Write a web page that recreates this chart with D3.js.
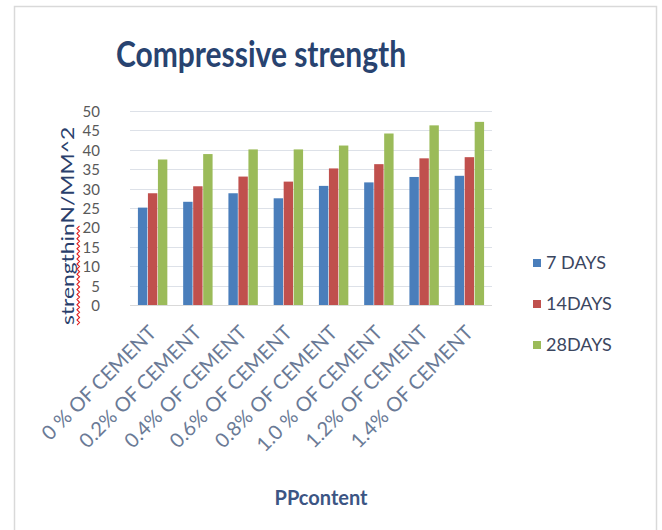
<!DOCTYPE html>
<html>
<head>
<meta charset="utf-8">
<script src="https://cdn.jsdelivr.net/npm/d3@7"></script>
<style>
  html, body { margin: 0; padding: 0; background: #ffffff; }
  svg { display: block; font-family: Lato, "Open Sans", sans-serif; }
</style>
</head>
<body>
<svg id="chart" width="662" height="530"></svg>
<script>
// Compressive strength (N/mm^2) by polypropylene fibre content
const categories = ["0 % OF CEMENT", "0.2% OF CEMENT", "0.4% OF CEMENT", "0.6% OF CEMENT",
                    "0.8% OF CEMENT", "1.0 % OF CEMENT", "1.2% OF CEMENT", "1.4% OF CEMENT"];
const seriesNames = ["7 DAYS", "14DAYS", "28DAYS"];
const days7  = [25.1, 26.6, 28.8, 27.5, 30.7, 31.6, 33.0, 33.3];
const days14 = [28.8, 30.6, 33.1, 31.8, 35.2, 36.3, 37.8, 38.1];
const days28 = [37.5, 38.9, 40.1, 40.1, 41.1, 44.2, 46.3, 47.2];
const yTicks = [0, 5, 10, 15, 20, 25, 30, 35, 40, 45, 50];

const seriesValues = [days7, days14, days28];
const colors = ["#4a7ebb", "#c0504d", "#9bbb59"];

const svg = d3.select("#chart");

// outer chart frame
svg.append("rect")
  .attr("x", 14.5).attr("y", 6.5)
  .attr("width", 642).attr("height", 540)
  .attr("fill", "#ffffff")
  .attr("stroke", "#d9d9d9").attr("stroke-width", 1.5);

const plot = { left: 130, right: 492, top: 111, bottom: 305 };

const x0 = d3.scaleBand()
  .domain(categories)
  .range([plot.left, plot.right])
  .paddingInner(0.35)
  .paddingOuter(0.175);

const x1 = d3.scaleBand()
  .domain(seriesNames)
  .range([0, x0.bandwidth()])
  .paddingInner(0.06);

const y = d3.scaleLinear()
  .domain([0, 50])
  .range([plot.bottom, plot.top]);

// horizontal gridlines
svg.append("g")
  .selectAll("line")
  .data(yTicks.filter(t => t > 0))
  .join("line")
  .attr("x1", plot.left).attr("x2", plot.right)
  .attr("y1", d => Math.round(y(d)) + 0.5)
  .attr("y2", d => Math.round(y(d)) + 0.5)
  .attr("stroke", "#dde1e8").attr("stroke-width", 1);

// bars
const groups = svg.append("g")
  .selectAll("g")
  .data(categories)
  .join("g")
  .attr("transform", d => `translate(${x0(d)},0)`);

groups.selectAll("rect")
  .data((d, i) => seriesNames.map((s, j) => ({ s, v: seriesValues[j][i], j })))
  .join("rect")
  .attr("x", d => x1(d.s))
  .attr("width", x1.bandwidth())
  .attr("y", d => y(d.v))
  .attr("height", d => y(0) - y(d.v))
  .attr("fill", d => colors[d.j]);

// category axis line
svg.append("line")
  .attr("x1", plot.left).attr("x2", plot.right)
  .attr("y1", plot.bottom + 0.5).attr("y2", plot.bottom + 0.5)
  .attr("stroke", "#d9d9d9").attr("stroke-width", 1);

// value axis labels
const yAxis = d3.axisLeft(y).tickValues(yTicks).tickSize(0).tickPadding(0);
const yAxisG = svg.append("g")
  .attr("transform", `translate(${plot.left - 30},0)`)
  .call(yAxis);
yAxisG.select(".domain").remove();
yAxisG.selectAll("text")
  .attr("font-family", "Lato, sans-serif")
  .attr("font-size", 15)
  .attr("fill", "#595959")
  .attr("dy", "0.36em");

// category labels rotated 45 degrees
svg.append("g")
  .selectAll("text")
  .data(categories)
  .join("text")
  .attr("transform", d => `translate(${x0(d) + x0.bandwidth() / 2},${plot.bottom + 24}) rotate(-45)`)
  .attr("text-anchor", "end")
  .attr("dy", "0.35em")
  .attr("font-size", 20)
  .attr("fill", "#6a7a96")
  .text(d => d);

// chart title
svg.append("text")
  .attr("transform", "translate(261,67) scale(1,1.2)")
  .attr("text-anchor", "middle")
  .attr("font-size", 30)
  .attr("font-weight", 700)
  .attr("fill", "#284370")
  .text("Compressive strength");

// value axis title, with a spell-check squiggle under its first word
const yTitleG = svg.append("g")
  .attr("transform", "translate(74,325) scale(1,1.27) rotate(-90)");
const yTitle = yTitleG.append("text")
  .attr("x", 0).attr("y", 0)
  .attr("font-size", 18)
  .attr("fill", "#2a3f6c")
  .text("strengthinN/MM^2");
const wordLen = yTitle.node().getSubStringLength(0, 10);
const squiggle = d3.range(0, Math.floor(wordLen / 2) + 1)
  .map(i => [i * 2, i % 2 === 0 ? 3 : 5.5]);
yTitleG.append("path")
  .attr("d", d3.line()(squiggle))
  .attr("fill", "none")
  .attr("stroke", "#e02020")
  .attr("stroke-width", 1);

// category axis title
svg.append("text")
  .attr("x", 321).attr("y", 505)
  .attr("text-anchor", "middle")
  .attr("font-size", 20)
  .attr("font-weight", 700)
  .attr("fill", "#3c5584")
  .text("PPcontent");

// legend
const legend = svg.append("g")
  .selectAll("g")
  .data(seriesNames)
  .join("g")
  .attr("transform", (d, i) => `translate(533,${263 + i * 41})`);
legend.append("rect")
  .attr("x", 0).attr("y", -4)
  .attr("width", 8).attr("height", 8)
  .attr("fill", (d, i) => colors[i]);
legend.append("text")
  .attr("x", 13).attr("y", 0)
  .attr("dy", "0.36em")
  .attr("font-size", 18)
  .attr("fill", "#3b465f")
  .text(d => d);
</script>
</body>
</html>
